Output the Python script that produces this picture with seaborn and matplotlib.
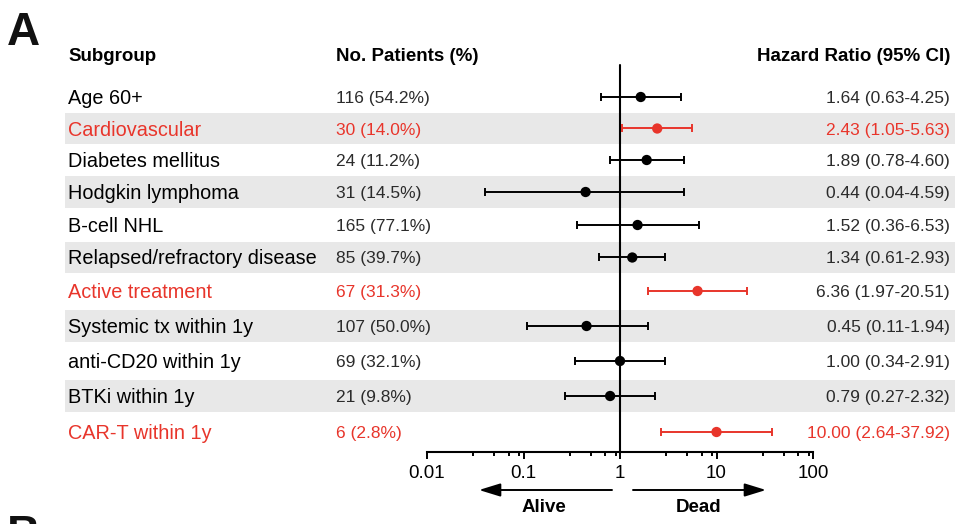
import numpy as np
import pandas as pd
import matplotlib
matplotlib.use("Agg")
import matplotlib.pyplot as plt
from matplotlib.patches import Rectangle, FancyArrowPatch, ArrowStyle
import seaborn as sns

# ---------------- data ----------------
subgroups = ["Age 60+", "Cardiovascular", "Diabetes mellitus", "Hodgkin lymphoma",
             "B-cell NHL", "Relapsed/refractory disease", "Active treatment",
             "Systemic tx within 1y", "anti-CD20 within 1y", "BTKi within 1y",
             "CAR-T within 1y"]
n_patients = [116, 30, 24, 31, 165, 85, 67, 107, 69, 21, 6]
pct_patients = [54.2, 14.0, 11.2, 14.5, 77.1, 39.7, 31.3, 50.0, 32.1, 9.8, 2.8]
hr = [1.64, 2.43, 1.89, 0.44, 1.52, 1.34, 6.36, 0.45, 1.00, 0.79, 10.00]
ci_low = [0.63, 1.05, 0.78, 0.04, 0.36, 0.61, 1.97, 0.11, 0.34, 0.27, 2.64]
ci_high = [4.25, 5.63, 4.60, 4.59, 6.53, 2.93, 20.51, 1.94, 2.91, 2.32, 37.92]
significant = [False, True, False, False, False, False, True, False, False, False, True]
hr_text_red = [False, True, False, False, False, False, False, False, False, False, True]
tick_values = [0.01, 0.1, 1, 10, 100]
tick_labels = ["0.01", "0.1", "1", "10", "100"]

# ---------------- layout (pixel units) ----------------
W, H = 955, 524
row_centers = [97, 128.5, 160, 192, 225, 257.5, 291, 326, 361, 396, 432]
band_half = 15.8
RED = "#E8352B"
BLACK = "#000000"
NUMCOL = "#2b2b2b"
BAND = "#E8E8E8"

sns.set_theme(style="white")
plt.rcParams["font.family"] = ["Liberation Sans", "DejaVu Sans"]
plt.rcParams["text.color"] = "black"
plt.rcParams["xtick.color"] = "black"

fig = plt.figure(figsize=(W / 100, H / 100), dpi=100)

# background / text layer in pixel coordinates
bg = fig.add_axes([0, 0, 1, 1], zorder=0)
bg.set_xlim(0, W)
bg.set_ylim(H, 0)
bg.axis("off")

for i, yc in enumerate(row_centers):
    if i % 2 == 1:
        bg.add_patch(Rectangle((65, yc - band_half), W - 65, 2 * band_half,
                               facecolor=BAND, edgecolor="none", zorder=0))

# headers
bg.text(68, 61, "Subgroup", fontsize=13.5, fontweight="bold", va="baseline", ha="left", color=BLACK)
bg.text(336, 61, "No. Patients (%)", fontsize=13.5, fontweight="bold", va="baseline", ha="left", color=BLACK)
bg.text(950, 61, "Hazard Ratio (95% CI)", fontsize=13.5, fontweight="bold", va="baseline", ha="right", color=BLACK)

for i, yc in enumerate(row_centers):
    lab_col = RED if significant[i] else BLACK
    num_col = RED if significant[i] else NUMCOL
    hr_col = RED if hr_text_red[i] else NUMCOL
    bg.text(68, yc + 7, subgroups[i], fontsize=14.3, color=lab_col, va="baseline", ha="left")
    bg.text(336, yc + 6, f"{n_patients[i]} ({pct_patients[i]:.1f}%)", fontsize=12.5,
            color=num_col, va="baseline", ha="left")
    bg.text(950, yc + 6, f"{hr[i]:.2f} ({ci_low[i]:.2f}-{ci_high[i]:.2f})", fontsize=12.5,
            color=hr_col, va="baseline", ha="right")

# panel letters
bg.text(7, 45, "A", fontsize=33, fontweight="bold", va="baseline", ha="left", color="#111111")
bg.text(7, 548, "B", fontsize=33, fontweight="bold", va="baseline", ha="left", color="#111111")

# direction arrows
style = ArrowStyle("-|>", head_length=13, head_width=4)
bg.add_patch(FancyArrowPatch((612, 490), (479, 490), arrowstyle=style, mutation_scale=1,
                             color="black", lw=1.4, shrinkA=0, shrinkB=0))
bg.add_patch(FancyArrowPatch((633, 490), (766, 490), arrowstyle=style, mutation_scale=1,
                             color="black", lw=1.4, shrinkA=0, shrinkB=0))
bg.text(544, 512, "Alive", fontsize=13.5, fontweight="bold", ha="center", va="baseline", color=BLACK)
bg.text(699, 512, "Dead", fontsize=13.5, fontweight="bold", ha="center", va="baseline", color=BLACK)

# forest axes
x0, x1 = 427, 813
y_top, y_axis = 60, 452
ax = fig.add_axes([x0 / W, (H - y_axis) / H, (x1 - x0) / W, (y_axis - y_top) / H], zorder=2)
ax.patch.set_alpha(0)
ax.set_xscale("log")
ax.set_xlim(0.01, 100)
ax.set_ylim(y_axis, y_top)

df = pd.DataFrame({"hr": hr, "lo": ci_low, "hi": ci_high, "y": row_centers,
                   "sig": ["sig" if s else "ns" for s in significant]})

ax.axvline(1, ymin=0, ymax=(y_axis - 65) / (y_axis - y_top), color="black", lw=1.5, zorder=1)

for key, col in [("ns", BLACK), ("sig", RED)]:
    d = df[df["sig"] == key]
    ax.errorbar(d["hr"], d["y"], xerr=[d["hr"] - d["lo"], d["hi"] - d["hr"]], fmt="none",
                ecolor=col, elinewidth=1.4, capsize=3, capthick=1.4, zorder=2)

sns.scatterplot(data=df, x="hr", y="y", hue="sig", palette={"ns": BLACK, "sig": RED},
                s=55, linewidth=0, legend=False, ax=ax, zorder=3)

ax.set_xlabel("")
ax.set_ylabel("")
ax.set_yticks([])
for s in ["top", "left", "right"]:
    ax.spines[s].set_visible(False)
ax.spines["bottom"].set_linewidth(1.5)
ax.spines["bottom"].set_color("black")
ax.set_xticks(tick_values)
ax.set_xticklabels(tick_labels, fontsize=13.5, color="black")
minor = [m * d for d in [0.01, 0.1, 1, 10] for m in [3, 5, 7, 9]]
ax.set_xticks(minor, minor=True)
ax.xaxis.set_minor_formatter(matplotlib.ticker.NullFormatter())
ax.tick_params(axis="x", which="major", direction="out", length=5, width=1.4, pad=4,
               color="black", bottom=True)
ax.tick_params(axis="x", which="minor", direction="out", length=3, width=1.4,
               color="black", bottom=True)

fig.savefig("out.png", dpi=100)
